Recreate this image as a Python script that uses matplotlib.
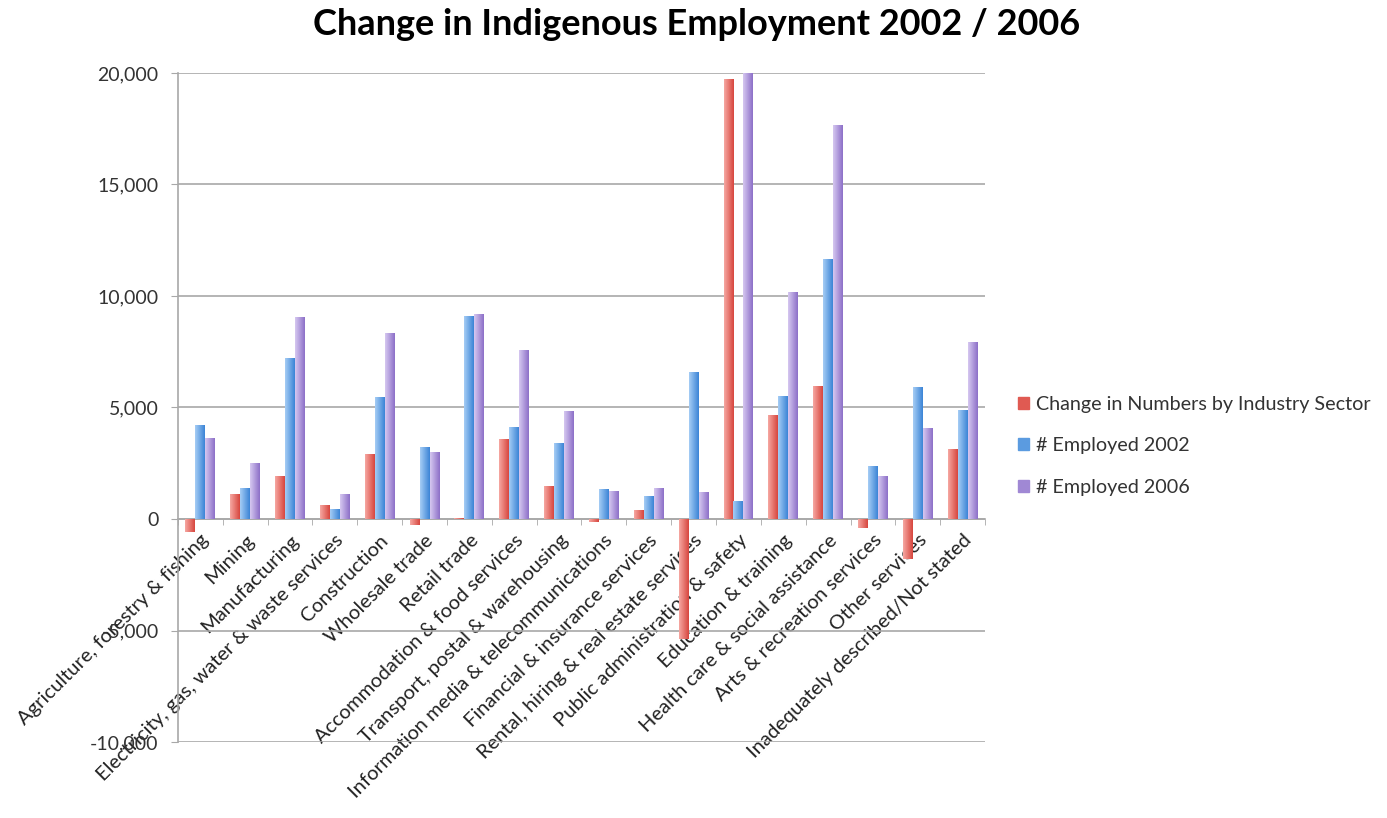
import numpy as np
import matplotlib.pyplot as plt
from matplotlib.colors import LinearSegmentedColormap
from matplotlib.ticker import FuncFormatter

# sectors
sectors = ['Agriculture, forestry & fishing', 'Mining', 'Manufacturing',
           'Electricity, gas, water & waste services', 'Construction',
           'Wholesale trade', 'Retail trade', 'Accommodation & food services',
           'Transport, postal & warehousing', 'Information media & telecommunications',
           'Financial & insurance services', 'Rental, hiring & real estate services',
           'Public administration & safety', 'Education & training',
           'Health care & social assistance', 'Arts & recreation services',
           'Other services', 'Inadequately described/Not stated']

change = [-580, 1120, 1940, 640, 2910, -250, 50, 3580, 1490, -150,
          420, -5370, 19750, 4660, 5960, -420, -1790, 3130]
emp_2002 = [4200, 1390, 7200, 450, 5480, 3220, 9100, 4120, 3400, 1340,
            1030, 6580, 820, 5520, 11680, 2380, 5920, 4880]
emp_2006 = [3640, 2500, 9050, 1120, 8350, 3000, 9200, 7600, 4850, 1250,
            1390, 1210, 20000, 10200, 17650, 1940, 4070, 7920]

series_names = ['Change in Numbers by Industry Sector', '# Employed 2002', '# Employed 2006']

plt.rcParams['font.family'] = ['Lato', 'DejaVu Sans']

fig = plt.figure(figsize=(13.87, 8.18), dpi=100)
ax = fig.add_axes([0.1283, 0.0929, 0.5819, 0.8179])

# gradient colours (light -> dark, left to right)
grads = [('#f6a8a2', '#d7463e'), ('#a6cdf5', '#3b84d6'), ('#d6c8f0', '#8c6fc8')]
solid = ['#e05a52', '#5b9be0', '#a088d4']

x = np.arange(len(sectors))
w = 0.222
grad = np.linspace(0, 1, 64).reshape(1, -1)

for i, vals in enumerate([change, emp_2002, emp_2006]):
    bars = ax.bar(x + (i - 1) * w, vals, w, color='none', edgecolor='none',
                  label=series_names[i], zorder=3)
    cmap = LinearSegmentedColormap.from_list('g%d' % i, grads[i])
    for b in bars:
        x0, y0 = b.get_x(), b.get_y()
        bw, bh = b.get_width(), b.get_height()
        im = ax.imshow(grad, cmap=cmap, aspect='auto', zorder=3,
                       extent=[x0, x0 + bw, y0, y0 + bh], interpolation='bilinear')
        im.set_clip_path(b)

ax.set_xlim(-0.5, len(sectors) - 0.5)
ax.set_ylim(-10000, 20000)
ax.set_yticks(np.arange(-10000, 20001, 5000))
ax.yaxis.set_major_formatter(FuncFormatter(lambda v, p: f'{int(v):,}'))
ax.yaxis.grid(True, color='#a8a8a8', linewidth=1.2, zorder=0)
ax.set_axisbelow(True)

ax.spines['top'].set_visible(False)
ax.spines['right'].set_visible(False)
ax.spines['left'].set_color('#a8a8a8')
ax.spines['left'].set_linewidth(1.2)
ax.spines['bottom'].set_position(('data', 0))
ax.spines['bottom'].set_color('#a8a8a8')
ax.spines['bottom'].set_linewidth(1.2)

ax.set_xticks(np.arange(len(sectors) + 1) - 0.5, minor=True)
ax.set_xticks(x)
ax.set_xticklabels(sectors, rotation=45, ha='right', rotation_mode='anchor',
                   fontsize=14.5, color='#222222')
ax.tick_params(axis='x', which='major', length=0, pad=9)
ax.tick_params(axis='x', which='minor', length=4, color='#a8a8a8', direction='out')
ax.tick_params(axis='y', length=5, color='#a8a8a8', labelsize=14,
               labelcolor='#333333', pad=9)

handles = [plt.Rectangle((0, 0), 1, 1, color=c) for c in solid]
fig.legend(handles, series_names, loc='center left', bbox_to_anchor=(0.721, 0.455),
           frameon=False, fontsize=14.2, handlelength=0.55, handleheight=0.55,
           handletextpad=0.35, labelspacing=1.25, labelcolor='#333333')

fig.suptitle('Change in Indigenous Employment 2002 / 2006', x=0.502, y=0.99,
             fontsize=26, fontweight='bold')

fig.savefig('out.png', dpi=100)
